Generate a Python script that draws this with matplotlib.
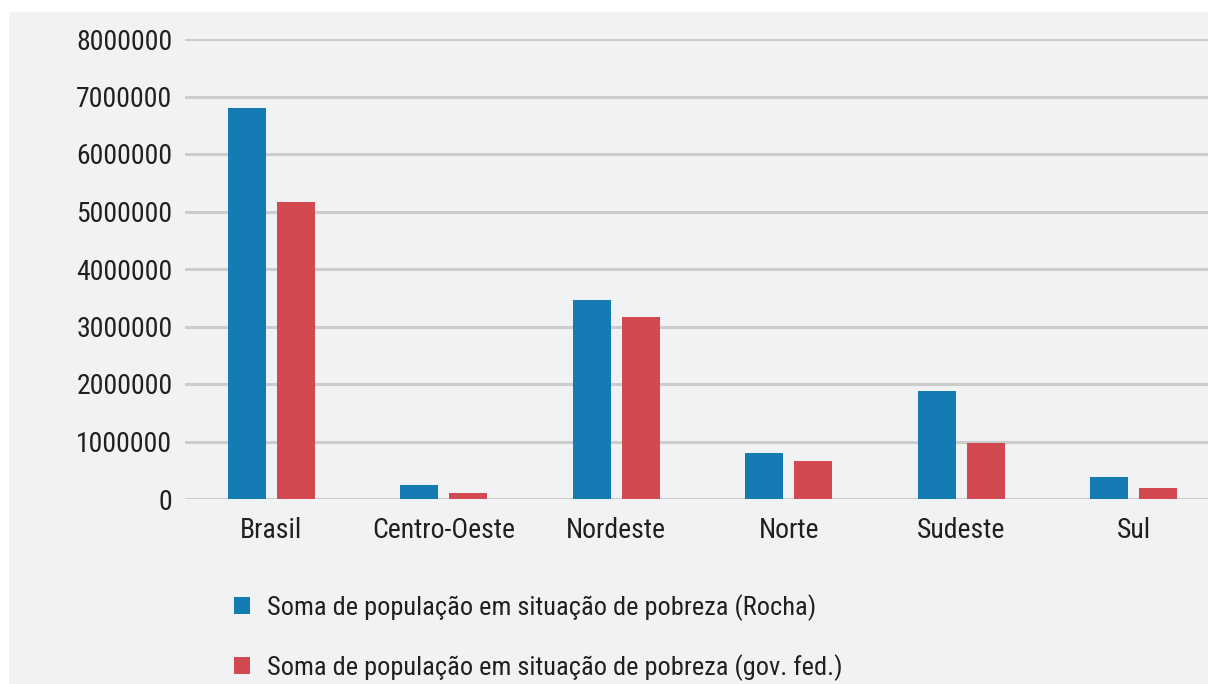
import numpy as np
import matplotlib
matplotlib.use('Agg')
import matplotlib.pyplot as plt
from matplotlib import font_manager
from matplotlib.patches import Rectangle

# Data
regions = ['Brasil', 'Centro-Oeste', 'Nordeste', 'Norte', 'Sudeste', 'Sul']
rocha = [6800000, 240000, 3460000, 800000, 1870000, 390000]
gov_fed = [5165000, 110000, 3170000, 660000, 980000, 190000]
series_labels = ['Soma de população em situação de pobreza (Rocha)',
                 'Soma de população em situação de pobreza (gov. fed.)']
y_ticks = [0, 1000000, 2000000, 3000000, 4000000, 5000000, 6000000, 7000000, 8000000]

blue = '#147bb4'
red = '#d24a51'
bg = '#f1f2f4'

# pick a condensed face if one is installed, else Liberation Sans
installed = set(f.name for f in font_manager.fontManager.ttflist)
font_name = 'Liberation Sans'
for cand in ['Liberation Sans Narrow', 'DejaVu Sans Condensed', 'Roboto Condensed',
             'Open Sans Condensed', 'Noto Sans Condensed']:
    if cand in installed:
        font_name = cand
        break
plt.rcParams['font.family'] = [font_name, 'DejaVu Sans']

W, H = 1208, 684
fig = plt.figure(figsize=(W / 100, H / 100), dpi=100, facecolor='white')

# The grey panel, leaving a small white margin on the left and top
fig.patches.append(Rectangle((9 / W, 0), 1, (H - 12) / H, transform=fig.transFigure,
                             facecolor=bg, edgecolor='none', zorder=-10))

# The axes run a bit past the right edge, like in the cropped reference
ax = fig.add_axes([185 / W, (H - 499) / H, (1220 - 185) / W, (499 - 39) / H])
ax.set_facecolor('none')
ax.set_zorder(1)

x = np.arange(len(regions))
w = 0.22
off = 0.142
ax.bar(x - off, rocha, width=w, color=blue, label=series_labels[0], zorder=3)
ax.bar(x + off, gov_fed, width=w, color=red, label=series_labels[1], zorder=3)

ax.set_xlim(-0.5, len(regions) - 0.5)
ax.set_ylim(0, 8000000)
ax.set_yticks(y_ticks)
ax.set_yticklabels([str(v) for v in y_ticks])
ax.set_xticks(x)
ax.set_xticklabels(regions)

ax.yaxis.grid(True, color='#cccccc', linewidth=2.2, zorder=1)
ax.set_axisbelow(True)
for s in ax.spines.values():
    s.set_visible(False)
ax.tick_params(axis='both', length=0, labelsize=20, colors='#231f20')
ax.tick_params(axis='y', pad=9)
ax.tick_params(axis='x', pad=13)

# Legend below the plot, one entry per row
leg = fig.legend(loc='upper left', bbox_to_anchor=(234 / W, (H - 594) / H),
                 frameon=False, fontsize=19, handlelength=0.62, handleheight=0.62,
                 handletextpad=0.63, labelspacing=1.26, borderpad=0, borderaxespad=0)
for t in leg.get_texts():
    t.set_color('#231f20')

fig.savefig('out.png', dpi=100, facecolor='white')
